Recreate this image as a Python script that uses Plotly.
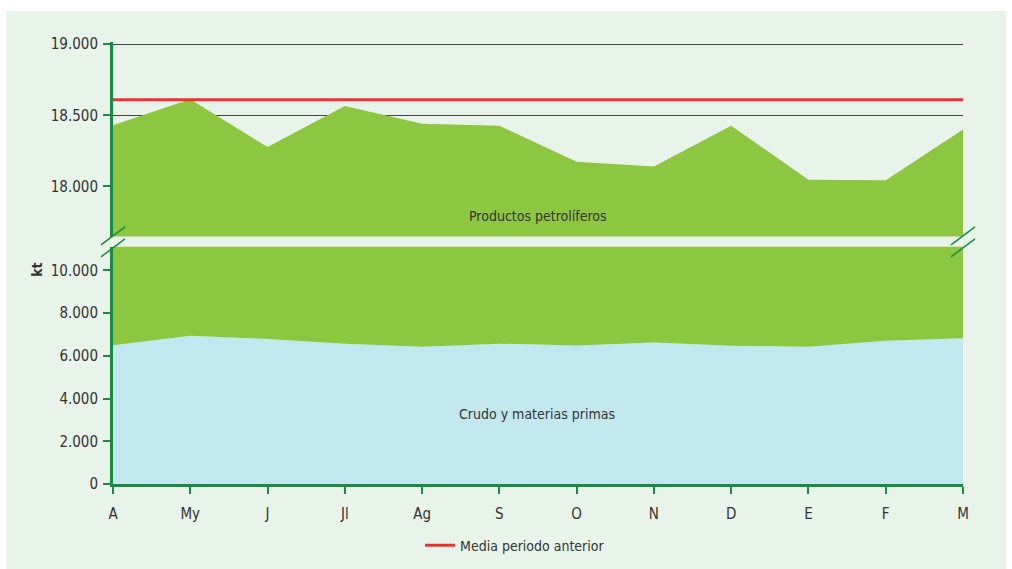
import plotly.graph_objects as go

meses = ["A", "My", "J", "Jl", "Ag", "S", "O", "N", "D", "E", "F", "M"]
crudo = [6490, 6945, 6790, 6570, 6430, 6570, 6480, 6620, 6470, 6430, 6710, 6820]
total = [18430, 18613, 18277, 18566, 18441, 18427, 18174, 18141, 18427, 18047, 18044, 18401]
media_anterior = [18610] * len(meses)

GREEN = "#8DC641"
BLUE = "#C2E7EF"
BG = "#E8F3EA"
AXIS = "#1B8A45"
RED = "#EE3030"
TXT = "#333333"
FONT = "Liberation Sans Narrow, DejaVu Sans Condensed, Roboto Condensed, sans-serif"

fig = go.Figure()

# top panel (broken axis upper part)
fig.add_trace(go.Scatter(x=meses, y=total, fill="tozeroy", mode="lines",
                         line=dict(width=0, color=GREEN), fillcolor=GREEN,
                         showlegend=False, hoverinfo="skip", xaxis="x2", yaxis="y2"))
fig.add_trace(go.Scatter(x=meses, y=media_anterior, mode="lines",
                         line=dict(width=3, color=RED), name="Media periodo anterior",
                         xaxis="x2", yaxis="y2"))

# bottom panel
fig.add_trace(go.Scatter(x=meses, y=crudo, fill="tozeroy", mode="lines",
                         line=dict(width=0, color=BLUE), fillcolor=BLUE,
                         showlegend=False, hoverinfo="skip", xaxis="x", yaxis="y"))
fig.add_trace(go.Scatter(x=meses, y=total, fill="tonexty", mode="lines",
                         line=dict(width=0, color=GREEN), fillcolor=GREEN,
                         showlegend=False, hoverinfo="skip", xaxis="x", yaxis="y"))

TOP = 42.0
BOT = 484.3
H = BOT - TOP
bot_top = (BOT - 247.0) / H
top_bot = (BOT - 236.7) / H

def px_x(px):
    return (px - 113) / 850.0

def px_y(py):
    return (BOT - py) / H

shapes = [
    dict(type="rect", xref="paper", yref="paper", x0=px_x(6), x1=px_x(1006),
         y0=px_y(575), y1=px_y(11), fillcolor=BG, line=dict(width=0), layer="below"),
]
for (x0, y0, x1, y1) in [(101, 245, 125, 227), (101, 257, 125, 239),
                         (951, 245, 975, 227), (951, 257, 975, 239)]:
    shapes.append(dict(type="line", xref="paper", yref="paper",
                       x0=px_x(x0), y0=px_y(y0), x1=px_x(x1), y1=px_y(y1),
                       line=dict(color=AXIS, width=1.5)))

fig.update_layout(
    width=1012, height=569,
    margin=dict(l=113, r=49, t=TOP, b=569 - BOT, autoexpand=False),
    paper_bgcolor="white", plot_bgcolor="rgba(0,0,0,0)",
    separators=",.",
    font=dict(family=FONT, color=TXT, size=14),
    showlegend=True,
    legend=dict(orientation="h", x=0.473, y=px_y(546), xanchor="center", yanchor="middle",
                bgcolor="rgba(0,0,0,0)", font=dict(size=14, family=FONT, color=TXT)),
    xaxis=dict(domain=[0, 1], anchor="y", range=[0, 11], type="category",
               showline=True, linecolor=AXIS, linewidth=3, automargin=False,
               ticks="outside", tickcolor=AXIS, ticklen=7, tickwidth=2,
               showgrid=False, ticklabelstandoff=7, tickfont=dict(size=15)),
    yaxis=dict(domain=[0, bot_top], range=[0, 11100], tickvals=[0, 2000, 4000, 6000, 8000, 10000],
               tickformat=",d", showline=True, linecolor=AXIS, linewidth=3, automargin=False,
               ticks="outside", tickcolor=AXIS, ticklen=7, tickwidth=2,
               showgrid=True, gridcolor="#444444", gridwidth=1, zeroline=False,
               tickfont=dict(size=15), ticklabelstandoff=2),
    xaxis2=dict(domain=[0, 1], anchor="y2", range=[0, 11], type="category", automargin=False,
                showticklabels=False, showline=False, ticks="", showgrid=False, matches="x"),
    yaxis2=dict(domain=[top_bot, 1], range=[17648, 19015], tickvals=[18000, 18500, 19000],
                tickformat=",d", showline=True, linecolor=AXIS, linewidth=3, automargin=False,
                ticks="outside", tickcolor=AXIS, ticklen=7, tickwidth=2,
                showgrid=True, gridcolor="#444444", gridwidth=1, zeroline=False,
                tickfont=dict(size=15), ticklabelstandoff=2),
    shapes=shapes,
    annotations=[
        dict(text="Productos petrolíferos", x=px_x(538), y=px_y(216), xref="paper", yref="paper",
             xanchor="center", yanchor="middle",
             showarrow=False, font=dict(size=14, family=FONT, color=TXT)),
        dict(text="Crudo y materias primas", x=px_x(537), y=px_y(414), xref="paper", yref="paper",
             xanchor="center", yanchor="middle",
             showarrow=False, font=dict(size=14, family=FONT, color=TXT)),
        dict(text="<b>kt</b>", x=px_x(37), y=px_y(270), xref="paper", yref="paper",
             xanchor="center", yanchor="middle",
             showarrow=False, textangle=-90, font=dict(size=14, family=FONT, color=TXT)),
    ],
)

fig.write_html("out.html", config={"displayModeBar": False},
               post_script="document.body.style.margin='0';")
